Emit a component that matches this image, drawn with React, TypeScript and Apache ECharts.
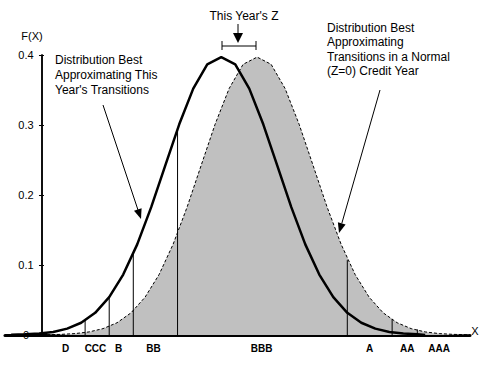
import React, { useEffect, useRef } from "react";
import * as echarts from "echarts";

// Normal (Z=0) credit-year distribution
const normalX = [0.09, 0.34, 0.59, 0.84, 1.09, 1.34, 1.59, 1.84, 2.09, 2.34, 2.59, 2.84, 3.09, 3.34, 3.59, 3.84, 4.09, 4.34, 4.59, 4.84, 5.09, 5.34, 5.59, 5.84, 6.09, 6.34, 6.59, 6.84, 7.09, 7.34, 7.59, 7.64];
const normalY = [0.0004, 0.0009, 0.002, 0.0044, 0.0091, 0.0175, 0.0317, 0.054, 0.0863, 0.1295, 0.1826, 0.242, 0.301, 0.352, 0.3867, 0.397, 0.3867, 0.352, 0.301, 0.242, 0.1826, 0.1295, 0.0863, 0.054, 0.0317, 0.0175, 0.0091, 0.0044, 0.002, 0.0009, 0.0004, 0.0003];

// This year's distribution
const thisYearX = [-0.55, -0.3, -0.05, 0.2, 0.45, 0.7, 0.95, 1.2, 1.45, 1.7, 1.95, 2.2, 2.45, 2.7, 2.95, 3.2, 3.45, 3.7, 3.95, 4.2, 4.45, 4.7, 4.95, 5.2, 5.45, 5.7, 5.95, 6.2, 6.45, 6.7, 6.84];
const thisYearY = [0.0004, 0.0009, 0.002, 0.0044, 0.0091, 0.0175, 0.0317, 0.054, 0.0863, 0.1295, 0.1826, 0.242, 0.301, 0.352, 0.3867, 0.397, 0.3867, 0.352, 0.301, 0.242, 0.1826, 0.1295, 0.0863, 0.054, 0.0317, 0.0175, 0.0091, 0.0044, 0.002, 0.0009, 0];

// Rating boundaries and their line heights
const boundaryX = [0.77, 1.2, 1.63, 2.42, 5.45, 6.25, 6.7];
const boundaryH = [0.0214, 0.053, 0.117, 0.293, 0.107, 0.023, 0.008];

// Rating labels
const ratings = ["D", "CCC", "B", "BB", "BBB", "A", "AA", "AAA"];
const ratingX = [0.42, 0.955, 1.37, 1.99, 3.92, 5.85, 6.52, 7.09];

// Y tick labels
const yTickValues = [0, 0.1, 0.2, 0.3, 0.4];
const yTickLabels = ["0", "0.1", "0.2", "0.3", "0.4"];

const FONT = "'Liberation Sans', Arial, sans-serif";

export default function App() {
  const ref = useRef<HTMLDivElement>(null);
  useEffect(() => {
    if (!ref.current) return;
    const chart = echarts.init(ref.current, undefined, { renderer: "svg" });
    const txt = (text: string, x: number, y: number, align = "left", size = 12) => ({
      type: "text",
      x,
      y,
      style: { text, fill: "#000", font: `${size}px ${FONT}`, align, verticalAlign: "middle" },
    });
    const yAxisBase = {
      type: "value",
      position: "left",
      min: 0,
      max: 0.4,
      interval: 0.1,
      axisLabel: { show: false },
      splitLine: { show: false },
    };
    const option: any = {
      animation: false,
      backgroundColor: "#fff",
      grid: { left: 5, right: 14, top: 55, bottom: 31, containLabel: false, outerBoundsMode: "none" },
      xAxis: {
        type: "value",
        min: -0.66,
        max: 7.64,
        axisLine: { show: true, onZero: false, lineStyle: { color: "#000", width: 3 } },
        axisTick: { show: false },
        axisLabel: { show: false },
        splitLine: { show: false },
      },
      yAxis: [
        {
          ...yAxisBase,
          axisLine: { show: true, onZero: true, onZeroAxisIndex: 0, lineStyle: { color: "#000", width: 1.5 } },
          axisTick: { show: true, length: 3, lineStyle: { color: "#000", width: 1 } },
        },
        {
          ...yAxisBase,
          axisLine: { show: true, onZero: true, onZeroAxisIndex: 0, lineStyle: { color: "#000", width: 1.5 } },
          axisTick: { show: true, inside: true, length: 2, lineStyle: { color: "#000", width: 1 } },
        },
      ],
      series: [
        {
          type: "line",
          data: normalX.map((x, i) => [x, normalY[i]]),
          symbol: "none",
          lineStyle: { color: "#000", width: 1, type: [3, 2] },
          areaStyle: { color: "#c0c0c0", opacity: 1 },
          z: 2,
        },
        {
          type: "line",
          data: thisYearX.map((x, i) => [x, thisYearY[i]]),
          symbol: "none",
          lineStyle: { color: "#000", width: 2.5 },
          z: 3,
        },
        {
          type: "custom",
          z: 4,
          data: boundaryX.map((x, i) => [x, boundaryH[i]]),
          encode: { x: 0, y: 1 },
          renderItem: (params: any, api: any) => {
            const p0 = api.coord([api.value(0), 0]);
            const p1 = api.coord([api.value(0), api.value(1)]);
            return {
              type: "line",
              shape: { x1: p0[0], y1: p0[1], x2: p1[0], y2: p1[1] },
              style: { stroke: "#000", lineWidth: 1 },
            };
          },
        },
        {
          type: "custom",
          z: 5,
          clip: false,
          data: ratingX.map((x) => [x, 0]),
          encode: { x: 0, y: 1 },
          renderItem: (params: any, api: any) => {
            const p = api.coord([api.value(0), 0]);
            return {
              type: "text",
              x: p[0],
              y: p[1] + 13,
              style: {
                text: ratings[params.dataIndex],
                fill: "#000",
                font: `bold 10px ${FONT}`,
                align: "center",
                verticalAlign: "middle",
              },
            };
          },
        },
        {
          type: "custom",
          z: 5,
          clip: false,
          data: yTickValues.map((v) => [0, v]),
          encode: { x: 0, y: 1 },
          renderItem: (params: any, api: any) => {
            const p = api.coord([0, api.value(1)]);
            return {
              type: "text",
              x: p[0] - 16,
              y: p[1],
              style: {
                text: yTickLabels[params.dataIndex],
                fill: "#000",
                font: `11px ${FONT}`,
                align: "center",
                verticalAlign: "middle",
              },
            };
          },
        },
      ],
      graphic: [
        txt("F(X)", 32, 36, "center", 11),
        txt("X", 475, 331, "center", 11),
        txt("This Year's Z", 244, 16, "center"),
        { type: "line", shape: { x1: 238, y1: 24, x2: 238, y2: 34 }, style: { stroke: "#000", lineWidth: 1 } },
        { type: "polygon", shape: { points: [[233, 33], [243, 33], [238, 43]] }, style: { fill: "#000" } },
        { type: "line", shape: { x1: 222, y1: 46, x2: 256, y2: 46 }, style: { stroke: "#000", lineWidth: 1 } },
        { type: "line", shape: { x1: 222, y1: 41, x2: 222, y2: 50 }, style: { stroke: "#000", lineWidth: 1 } },
        { type: "line", shape: { x1: 256, y1: 41, x2: 256, y2: 50 }, style: { stroke: "#000", lineWidth: 1 } },
        txt("Distribution Best", 55, 60),
        txt("Approximating This", 55, 75),
        txt("Year's Transitions", 55, 90),
        { type: "line", shape: { x1: 103, y1: 105, x2: 138, y2: 210 }, style: { stroke: "#000", lineWidth: 1 } },
        { type: "polygon", shape: { points: [[141, 219], [134, 210.8], [141.6, 208.2]] }, style: { fill: "#000" } },
        txt("Distribution Best", 327, 28),
        txt("Approximating", 327, 42),
        txt("Transitions in a Normal", 327, 56.5),
        txt("(Z=0) Credit Year", 327, 71),
        { type: "line", shape: { x1: 380, y1: 90, x2: 341.8, y2: 223.4 }, style: { stroke: "#000", lineWidth: 1 } },
        { type: "polygon", shape: { points: [[339, 233], [345.6, 224.5], [337.9, 222.3]] }, style: { fill: "#000" } },
      ],
    };
    chart.setOption(option);
    return () => chart.dispose();
  }, []);
  return (
    <div
      ref={ref}
      style={{ position: "fixed", left: 0, top: 0, width: 484, height: 366, background: "#fff" }}
    />
  );
}
